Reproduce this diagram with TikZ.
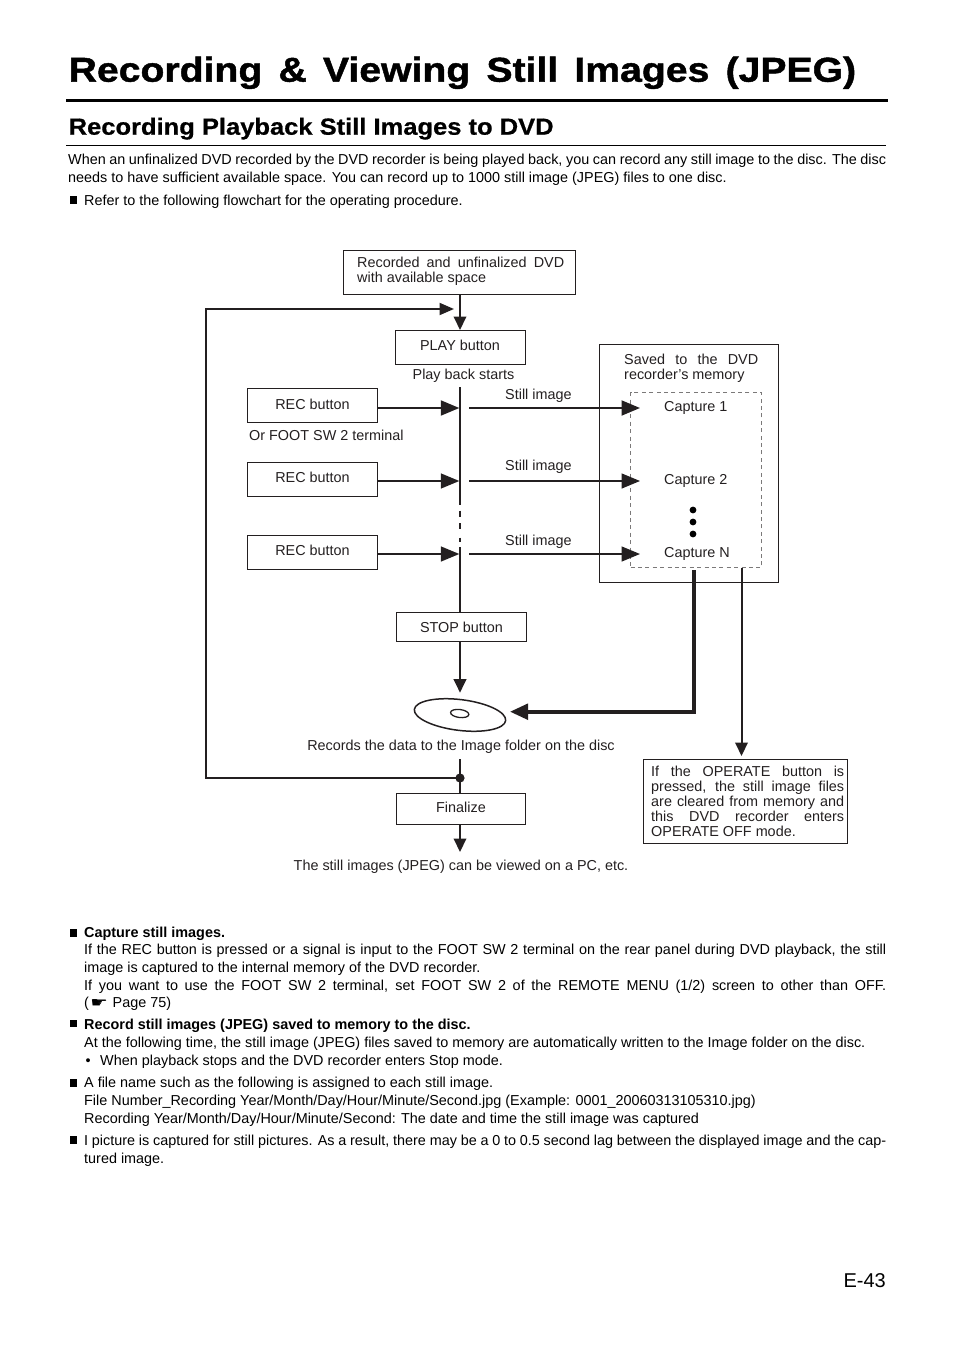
\documentclass[tikz,border=0pt]{standalone}
\usepackage{fontspec}
\usepackage{graphicx}
\setmainfont{Liberation Sans}
\newfontfamily\titlef{Liberation Sans}[BoldFeatures={FakeBold=1.3,FakeStretch=1.135}]
\newfontfamily\sectf{Liberation Sans}[BoldFeatures={FakeBold=0.7,FakeStretch=1.095}]
\newfontfamily\djv{DejaVu Sans}
\usetikzlibrary{arrows.meta}
\definecolor{ink}{HTML}{231F20}
\newcommand{\bodysz}{\fontsize{14.4}{18}\selectfont}
\newcommand{\diasz}{\fontsize{14.4}{15.2}\selectfont}
\newcommand{\para}[6]{\node[anchor=base west,inner sep=0pt] (#1) at (#2,#3) {\parbox[t]{#4pt}{\bodysz\setlength{\baselineskip}{#5pt}\setlength{\parindent}{0pt}\tolerance=9999 \hyphenpenalty=10000 \rightskip=0pt plus 0pt #6}};}
\newcommand{\dpara}[6]{\node[anchor=base west,inner sep=0pt,text=ink] (#1) at (#2,#3) {\parbox[t]{#4pt}{\diasz\setlength{\baselineskip}{#5pt}\setlength{\parindent}{0pt}\tolerance=9999 \hyphenpenalty=10000 #6}};}
\tikzset{
  x=1pt,y=-1pt,
  fbox/.style={draw=ink,line width=1pt,inner sep=0pt,font=\diasz,text=ink,align=center},
  dlabel/.style={inner sep=0pt,font=\diasz,text=ink},
  wire/.style={draw=ink,line width=2pt},
  thinwire/.style={draw=ink,line width=1.5pt},
  heavywire/.style={draw=ink,line width=3.6pt},
  tipa/.style={-{Triangle[length=13.5pt,width=12.5pt]}},
  tipl/.style={-{Triangle[length=14.5pt,width=12pt]}},
  tipc/.style={-{Triangle[length=18.5pt,width=15pt]}},
  bullet/.style={fill=black,inner sep=0pt,minimum size=7.8pt},
}
\begin{document}
\begin{tikzpicture}
\useasboundingbox (0,0) rectangle (954,1351);
% page headings
\node[anchor=base west,inner sep=0pt] (title) at (68.5,81.7) {\fontsize{34.5}{40}\selectfont\titlef\bfseries\spaceskip=16.2pt Recording \& Viewing Still Images (JPEG)};
\coordinate (rA) at (66,100.5); \coordinate (rB) at (888,100.5);
\draw[line width=3pt] (rA) -- (rB);
\node[anchor=base west,inner sep=0pt] (section) at (68.5,134.7) {\fontsize{23.3}{28}\selectfont\sectf\bfseries Recording Playback Still Images to DVD};
\coordinate (rC) at (66,145.5); \coordinate (rD) at (886,145.5);
\draw[line width=0.9pt] (rC) -- (rD);
\para{intro}{68}{165}{818}{17.5}{When an unfinalized DVD recorded by the DVD recorder is being played back, you can record any still image to the disc. The disc\linebreak needs to have sufficient available space. You can record up to 1000 still image (JPEG) files to one disc.}
\node[bullet,anchor=south west] (b0) at (69.3,204.5) {};
\para{refer}{84}{205}{802}{18}{Refer to the following flowchart for the operating procedure.}

% flowchart boxes
\dpara{startT}{357}{267}{207}{15}{Recorded and unfinalized DVD\linebreak with available space}
\node[fbox,minimum width=232pt,minimum height=44pt] (start) at (459.5,272.5) {};
\node[fbox,minimum width=130pt,minimum height=34pt,text height=5pt,text depth=0pt] (play) at (460,347.5) {PLAY button};
\node[dlabel,anchor=base] (pbs) at (463.5,379) {Play back starts};
\node[fbox,minimum width=130pt,minimum height=34pt,text height=7.6pt,text depth=0pt] (rec1) at (312.5,405.5) {REC button};
\node[dlabel,anchor=base west] (foot) at (249,440) {Or FOOT SW 2 terminal};
\node[fbox,minimum width=130pt,minimum height=34pt,text height=6pt,text depth=0pt] (rec2) at (312.5,479) {REC button};
\node[fbox,minimum width=130pt,minimum height=34pt,text height=6pt,text depth=0pt] (rec3) at (312.5,552) {REC button};
\node[fbox,minimum width=130pt,minimum height=29pt,text height=10.6pt,text depth=0pt] (stop) at (461.5,627) {STOP button};
\node[fbox,minimum width=129pt,minimum height=31pt,text height=7pt,text depth=0pt] (final) at (461,808.5) {Finalize};
\node[dlabel,anchor=base] (rtext) at (461,750) {Records the data to the Image folder on the disc};
\node[dlabel,anchor=base] (view) at (461,870) {The still images (JPEG) can be viewed on a PC, etc.};
\node[dlabel,anchor=base west] (si1) at (505,399) {Still image};
\node[dlabel,anchor=base west] (si2) at (505,470) {Still image};
\node[dlabel,anchor=base west] (si3) at (505,545) {Still image};

% memory box
\node[fbox,minimum width=179pt,minimum height=238pt] (mem) at (689,463.5) {};
\dpara{memT}{624}{364}{134}{15}{Saved to the DVD\linebreak recorder’s memory}
\node[draw=ink!60,dash pattern=on 4pt off 3.4pt,line width=0.8pt,minimum width=131pt,minimum height=175pt,inner sep=0pt] (dash) at (696,480) {};
\node[dlabel,anchor=base west] (c1) at (664,411) {Capture 1};
\node[dlabel,anchor=base west] (c2) at (664,484) {Capture 2};
\node[dlabel,anchor=base west] (cn) at (664,557) {Capture N};
\fill[black] (693,510) circle (3.4pt) (693,522) circle (3.4pt) (693,534) circle (3.4pt);

% operate box
\node[fbox,minimum width=204pt,minimum height=84pt] (op) at (745.5,801.5) {};
\dpara{opT}{651}{776}{193}{15.2}{If the OPERATE button is\linebreak pressed, the still image files\linebreak are cleared from memory and\linebreak this DVD recorder enters\linebreak OPERATE OFF mode.}

% disc
\draw[ink,line width=1.5pt,rotate around={-7:(460,715)}] (460,715) ellipse (46pt and 15.4pt);
\draw[ink,line width=1.3pt,rotate around={-7:(459.7,713.5)}] (459.7,713.5) ellipse (9.2pt and 4pt);
\coordinate (discTop) at (460,692.7);
\coordinate (discR) at (510,711.7);

% named connector points
\coordinate (spTop) at (460,387);
\coordinate (spA) at (460,505);
\coordinate (spB) at (460,547);
\coordinate (s1) at (459.3,408); \coordinate (s2) at (459.3,481); \coordinate (s3) at (459.3,554);
\coordinate (o1) at (469,408); \coordinate (o2) at (469,481); \coordinate (o3) at (469,554);
\coordinate (m1) at (640,408); \coordinate (m2) at (640,481); \coordinate (m3) at (640,554);
\coordinate (hvy) at (693.7,570); \coordinate (hvyC) at (693.7,711.7);
\coordinate (opS) at (741.5,568); \coordinate (opE) at (741.5,756);
\coordinate (lpB) at (206,778); \coordinate (lpT) at (206,309); \coordinate (lpE) at (454,309);
\coordinate (junc) at (460,778); \coordinate (rdS) at (460,759);
\coordinate (viewT) at (460,852);

% connectors
\draw[wire,tipa] (start.south -| play) -- (play.north);
\draw[wire,tipl] (junc) -- (lpB) -- (lpT) -- (lpE);
\draw[wire] (spTop) -- (spA);
\draw[wire] (460,510.5) -- (460,516.5) (460,523) -- (460,528.5) (460,537.5) -- (460,542);
\draw[wire] (spB) -- (stop.north -| spB);
\draw[wire,tipc] (rec1.east |- s1) -- (s1);
\draw[thinwire,tipc] (rec2.east |- s2) -- (s2);
\draw[thinwire,tipc] (rec3.east |- s3) -- (s3);
\draw[wire,tipc] (o1) -- (m1);
\draw[thinwire,tipc] (o2) -- (m2);
\draw[thinwire,tipc] (o3) -- (m3);
\draw[wire,tipa] (stop.south -| discTop) -- (discTop);
\draw[heavywire,-{Triangle[length=18pt,width=15.5pt]}] (hvy) -- (hvyC) -- (discR);
\draw[wire,tipa] (opS) -- (opE);
\draw[wire] (rdS) -- (final.north -| rdS);
\draw[wire,tipa] (final.south -| viewT) -- (viewT);
\fill[ink] (junc) circle (4.6pt);

% notes
\node[bullet,anchor=south west] (b1) at (69.3,936.7) {};
\para{n1}{84}{937}{802}{17.7}{\textbf{Capture still images.}\\
If the REC button is pressed or a signal is input to the FOOT SW 2 terminal on the rear panel during DVD playback, the still\linebreak
image is captured to the internal memory of the DVD recorder.\\
If you want to use the FOOT SW 2 terminal, set FOOT SW 2 of the REMOTE MENU (1/2) screen to other than OFF.\linebreak
(\raisebox{0pt}[8pt][0pt]{\makebox[20pt][l]{\hspace{1.5pt}\scalebox{1.4}[1]{\djv\fontsize{14}{14}\selectfont ☛}}}\hspace{3.7pt}Page 75)}
\node[bullet,anchor=south west] (b2) at (69.3,1027.5) {};
\para{n2}{84}{1029}{802}{18}{\textbf{Record still images (JPEG) saved to memory to the disc.}\\
At the following time, the still image (JPEG) files saved to memory are automatically written to the Image folder on the disc.\\
\hspace*{1.5pt}•\hspace{9.5pt}When playback stops and the DVD recorder enters Stop mode.}
\node[bullet,anchor=south west] (b3) at (69.3,1086.7) {};
\para{n3}{84}{1087}{802}{18}{A file name such as the following is assigned to each still image.\\
File Number\_Recording Year/Month/Day/Hour/Minute/Second.jpg (Example: 0001\_20060313105310.jpg)\\
Recording Year/Month/Day/Hour/Minute/Second: The date and time the still image was captured}
\node[bullet,anchor=south west] (b4) at (69.3,1144.3) {};
\para{n4}{84}{1145}{802}{18}{I picture is captured for still pictures. As a result, there may be a 0 to 0.5 second lag between the displayed image and the cap-\linebreak
tured image.}
\node[anchor=base east,inner sep=0pt] (pg) at (886,1287) {\fontsize{20}{22}\selectfont E-43};
\end{tikzpicture}
\end{document}
